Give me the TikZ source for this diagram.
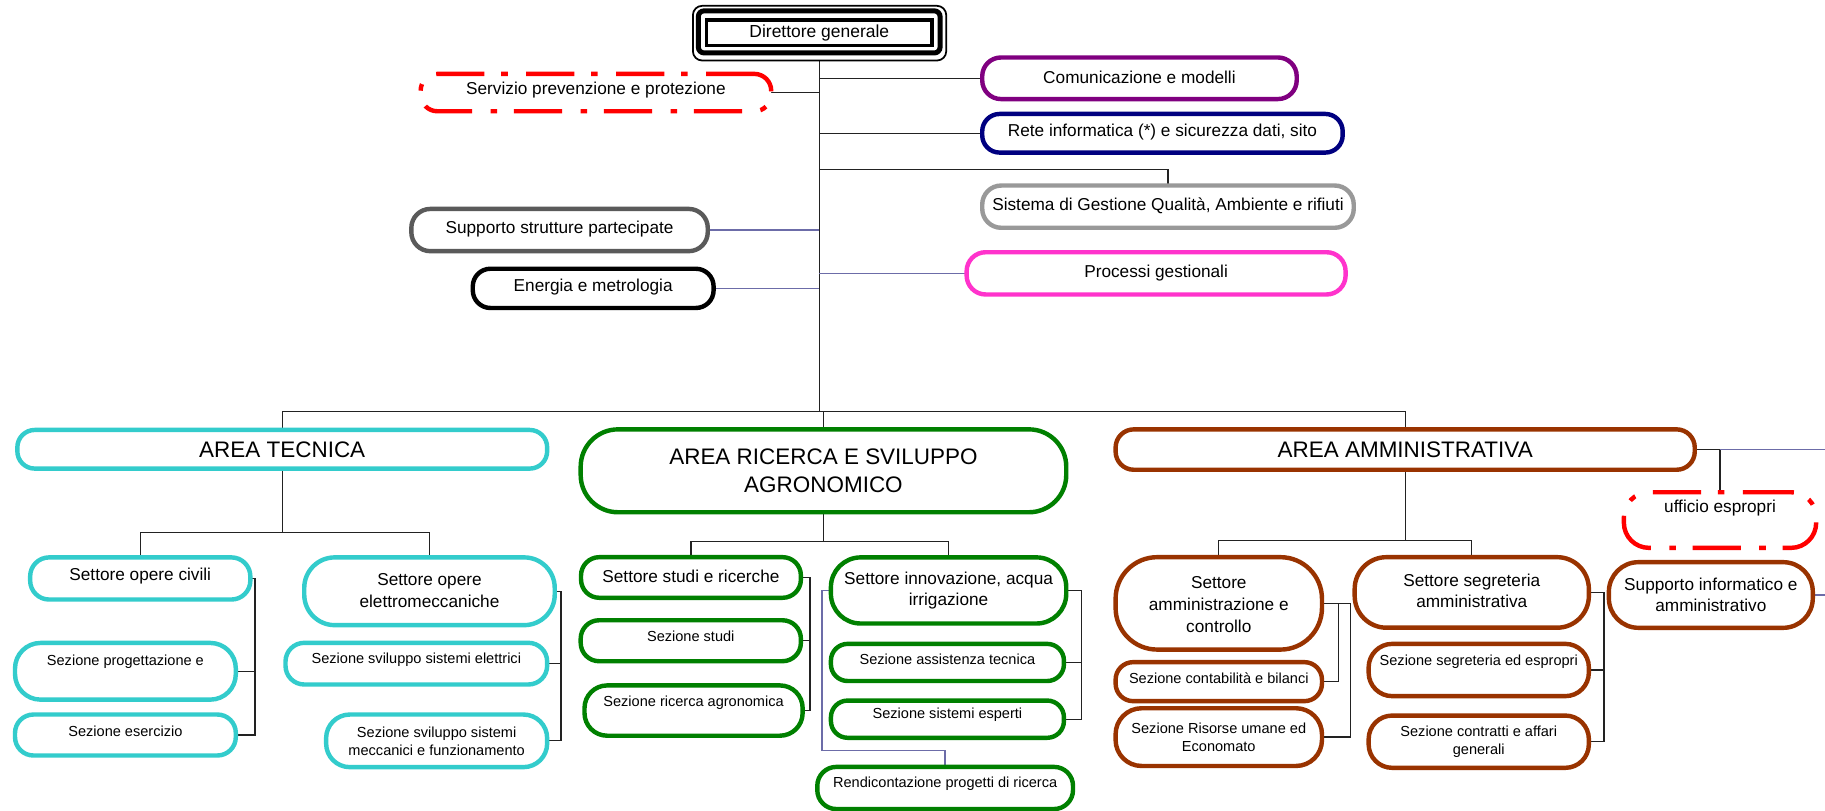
\documentclass[tikz,border=0pt]{standalone}
\usepackage{fontspec}
\setmainfont{Liberation Sans}
\usetikzlibrary{calc}
\pgfdeclarelayer{bg}
\pgfsetlayers{bg,main}

\definecolor{ccyan}{HTML}{33CCCC}
\definecolor{cgreen}{HTML}{008000}
\definecolor{cbrown}{HTML}{993300}
\definecolor{cpurple}{HTML}{800080}
\definecolor{cnavy}{HTML}{000080}
\definecolor{clgray}{HTML}{999999}
\definecolor{cdgray}{HTML}{5A5A5A}
\definecolor{cmag}{HTML}{FF33CC}
\definecolor{cred}{HTML}{FF0000}
\definecolor{cblue}{HTML}{6C6CA8}
\definecolor{cline}{HTML}{222222}

\newcommand\fsA{\fontsize{14.8}{18.5}\selectfont}
\newcommand\fsB{\fontsize{12.5}{15.5}\selectfont}
\newcommand\fsC{\fontsize{19.3}{24.3}\selectfont}

\tikzset{
  bx/.style={draw=#1, line width=3.8pt, fill=white, inner sep=0pt, outer sep=0pt},
  redbx/.style={draw=cred, line width=3.8pt, fill=white, inner sep=0pt, outer sep=0pt,
    dash pattern=on 41.5pt off 15.8pt on 5.7pt off 14.3pt},
  tA/.style={font=\fsA, align=center, inner sep=0pt},
  tB/.style={font=\fsB, align=center, inner sep=0pt},
  tC/.style={font=\fsC, align=center, inner sep=0pt},
  conn/.style={draw=cline, line width=1.1pt},
  bconn/.style={draw=cblue, line width=1.3pt},
}

% #1 name, #2 box style, #3 text style, #4 x1, #5 y1, #6 x2, #7 y2, #8 text shift up, #9 text
\newcommand\BX[9]{\node[#2, minimum width={#6-#4-3.8}, minimum height={#7-#5-3.8},
  rounded corners={0.45*(#7-#5-3.8)}, label={[#3, yshift=#8]center:#9}]
  (#1) at ({(#4+#6)/2},{(#5+#7)/2}) {};}

\begin{document}
\begin{tikzpicture}[x=1pt,y=-1pt]
\useasboundingbox (0,0) rectangle (1568,696);
\begin{pgfonlayer}{bg}
\fill[white] (0,0) rectangle (1568,696);
\end{pgfonlayer}

% Direttore generale
\node[draw, line width=1.5pt, rounded corners=8pt, minimum width=217.7, minimum height=47,
  inner sep=0pt, outer sep=0pt, fill=white] (dframe) at (704.15,28.5) {};
\node[draw, line width=4.3pt, rounded corners=5pt, minimum width=207.7, minimum height=36.2,
  inner sep=0pt, outer sep=0pt] (dband) at (703.85,27.4) {};
\node[draw, line width=2.8pt, minimum width=193.5, minimum height=22, inner sep=0pt,
  font=\fontsize{15}{18}\selectfont] (dir) at (703.95,28.2) {Direttore generale};

% staff boxes
\BX{serv}{redbx}{tA}{359.5}{61.6}{664.5}{97.5}{2}{Servizio prevenzione e protezione}
\BX{com}{bx=cpurple}{tA}{842}{47.5}{1116}{87}{1}{Comunicazione e modelli}
\BX{rete}{bx=cnavy}{tA}{842}{96}{1155.5}{133}{1}{Rete informatica (*) e sicurezza dati, sito}
\BX{sis}{bx=clgray}{tA}{842}{157.5}{1165}{197.6}{0.5}{Sistema di Gestione Qualità, Ambiente e rifiuti}
\BX{supp}{bx=cdgray}{tA}{351.5}{177.6}{610}{217.7}{1}{Supporto strutture partecipate}
\BX{ener}{bx=black}{tA}{404.3}{229}{615}{266.5}{1}{Energia e metrologia}
\BX{proc}{bx=cmag}{tA}{828.6}{214.8}{1158}{254.9}{0.5}{Processi gestionali}

% areas
\BX{at}{bx=ccyan}{tC}{13}{367.5}{472}{404.5}{0}{AREA TECNICA}
\BX{ar}{bx=cgreen}{tC}{497}{367}{918}{442}{0}{AREA RICERCA E SVILUPPO\\AGRONOMICO}
\BX{am}{bx=cbrown}{tC}{956.6}{367}{1458}{405.5}{0}{AREA AMMINISTRATIVA}

% area tecnica
\BX{soc}{bx=ccyan}{tA}{24}{477}{217}{517}{2}{Settore opere civili}
\BX{soe}{bx=ccyan}{tA}{259.5}{477}{478.5}{539}{0.5}{Settore opere\\elettromeccaniche}
\BX{spg}{bx=ccyan}{tB}{11}{550.5}{204.5}{603}{8}{Sezione progettazione e}
\BX{ses}{bx=ccyan}{tB}{11}{612}{204.5}{651}{3.5}{Sezione esercizio}
\BX{sse}{bx=ccyan}{tB}{243.4}{550.4}{472}{590}{3}{Sezione sviluppo sistemi elettrici}
\BX{ssm}{bx=ccyan}{tB}{278.3}{612}{472}{661}{0}{Sezione sviluppo sistemi\\meccanici e funzionamento}

% area ricerca
\BX{ssr}{bx=cgreen}{tA}{497.3}{476.8}{690}{515.5}{1.3}{Settore studi e ricerche}
\BX{sst}{bx=cgreen}{tB}{497}{531}{690}{570}{3.5}{Sezione studi}
\BX{sra}{bx=cgreen}{tB}{500.3}{587}{691.5}{634}{6.8}{Sezione ricerca agronomica}
\BX{sin}{bx=cgreen}{tA}{712}{477}{918}{537.6}{0}{Settore innovazione, acqua\\irrigazione}
\BX{sat}{bx=cgreen}{tB}{712}{551.3}{916}{587}{2.7}{Sezione assistenza tecnica}
\BX{sex}{bx=cgreen}{tB}{712}{600}{916}{635.8}{3.6}{Sezione sistemi esperti}
\BX{rend}{bx=cgreen}{tB}{700.3}{657}{923.8}{697}{4}{Rendicontazione progetti di ricerca}

% area amministrativa
\BX{sac}{bx=cbrown}{tA}{956.6}{476.8}{1137.7}{560}{-1}{Settore\\amministrazione e\\controllo}
\BX{scb}{bx=cbrown}{tB}{956.6}{567}{1137.7}{604.3}{2.9}{Sezione contabilità e bilanci}
\BX{srs}{bx=cbrown}{tB}{956.6}{606.6}{1137.7}{660}{0}{Sezione Risorse umane ed\\Economato}
\BX{ssa}{bx=cbrown}{tA}{1162}{476.8}{1367}{541.2}{1.3}{Settore segreteria\\amministrativa}
\BX{sep}{bx=cbrown}{tB}{1174}{551.3}{1367}{600}{7}{Sezione segreteria ed espropri}
\BX{sca}{bx=cbrown}{tB}{1174}{612.9}{1367}{661.6}{0}{Sezione contratti e affari\\generali}
\BX{uff}{redbx}{tA}{1393.3}{421}{1562.3}{472.6}{10}{ufficio espropri}
\BX{sinf}{bx=cbrown}{tA}{1380.4}{481.1}{1559.4}{541.3}{0}{Supporto informatico e\\amministrativo}

% connectors
\coordinate (tb) at (704,353.5);
\coordinate (sisj) at (704,145.5);
\coordinate (atj) at (242.5,457.5);
\coordinate (ce) at (219,0);
\coordinate (ee) at (482,0);
\coordinate (arj) at (707.5,465.3);
\coordinate (re) at (696,0);
\coordinate (ie) at (929,0);
\coordinate (rj) at (706.2,645);
\coordinate (amj) at (1207.3,464.5);
\coordinate (a1) at (1150,0);
\coordinate (a2) at (1160,0);
\coordinate (se) at (1378,0);
\coordinate (uj) at (1477.8,386.25);
\coordinate (redge) at (1568,386.25);
\coordinate (redge2) at (1568,511.2);

\begin{pgfonlayer}{bg}
\draw[conn] (dframe.south) -- (dframe.south |- tb);
\draw[conn] (serv.east) -- (serv.east -| tb);
\draw[conn] (com.west) -- (com.west -| tb);
\draw[conn] (rete.west) -- (rete.west -| tb);
\draw[conn] (sisj) -| (sis.north);
\draw[bconn] (supp.east) -- (supp.east -| tb);
\draw[bconn] (ener.east) -- (ener.east -| tb);
\draw[bconn] (proc.west) -- (proc.west -| tb);
\draw[conn] (at.north) |- (tb) -| (am.north);
\draw[conn] (ar.north) -- (ar.north |- tb);

\draw[conn] (at.south) -- (at.south |- atj);
\draw[conn] (soc.north) |- (atj) -| (soe.north);
\draw[conn] (soc.east) -- (soc.east -| ce) -- (ses.east -| ce) -- (ses.east);
\draw[conn] (spg.east) -- (spg.east -| ce);
\draw[conn] (soe.east) -- (soe.east -| ee) -- (ssm.east -| ee) -- (ssm.east);
\draw[conn] (sse.east) -- (sse.east -| ee);

\draw[conn] (ar.south) -- (ar.south |- arj);
\draw[conn] (ssr.north) |- (arj) -| (sin.north);
\draw[conn] (ssr.east) -- (ssr.east -| re) -- (sra.east -| re) -- (sra.east);
\draw[conn] (sst.east) -- (sst.east -| re);
\draw[conn] (sin.east) -- (sin.east -| ie) -- (sex.east -| ie) -- (sex.east);
\draw[conn] (sat.east) -- (sat.east -| ie);
\draw[bconn] (sin.west) -| (rj) -| (rend.north);

\draw[conn] (am.south) -- (am.south |- amj);
\draw[conn] (sac.north) |- (amj) -| (ssa.north);
\draw[conn] (sac.east) -- (sac.east -| a1) -- (scb.east -| a1) -- (scb.east);
\draw[conn] (sac.east -| a1) -- (sac.east -| a2) -- (srs.east -| a2) -- (srs.east);
\draw[conn] (ssa.east) -- (ssa.east -| se) -- (sca.east -| se) -- (sca.east);
\draw[conn] (sep.east) -- (sep.east -| se);
\draw[conn] (am.east) -- (uj) -- (uff.north);
\draw[bconn] (uj) -- (redge);
\draw[bconn] (sinf.east) -- (redge2);
\end{pgfonlayer}
\end{tikzpicture}
\end{document}
